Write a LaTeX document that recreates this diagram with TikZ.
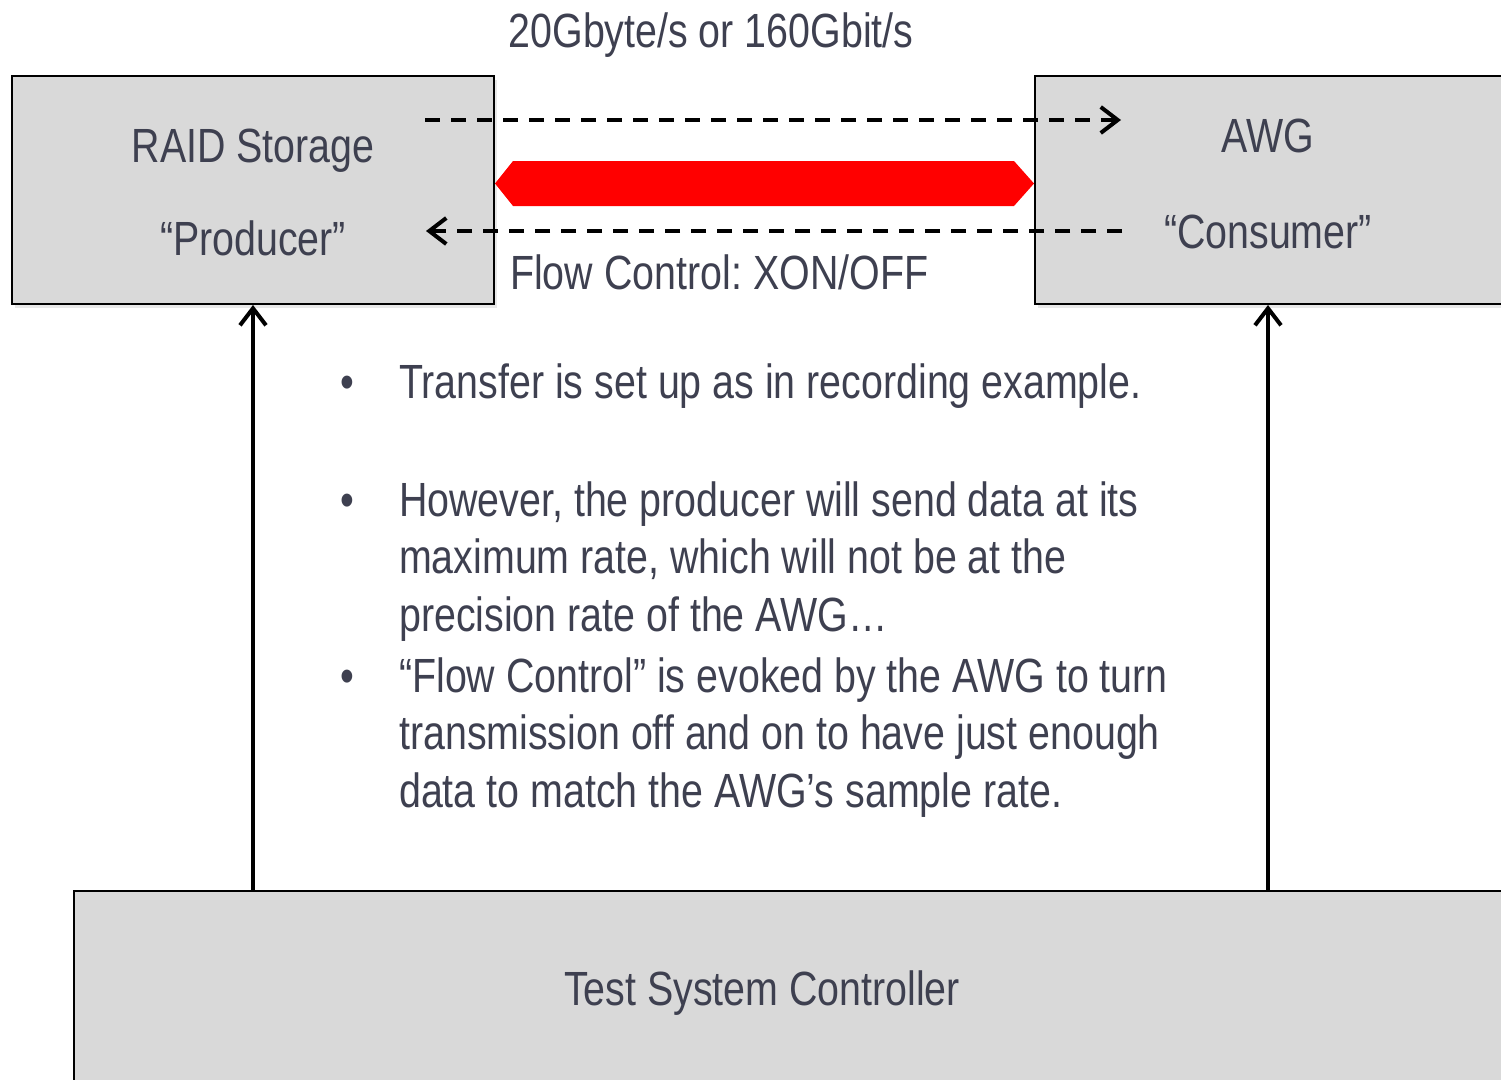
\documentclass[tikz,border=0pt]{standalone}
\usepackage{fontspec}
\setmainfont{Liberation Sans}[FakeStretch=0.82]
\usetikzlibrary{arrows.meta,shadows,calc}
\definecolor{boxgray}{RGB}{217,217,217}
\definecolor{txt}{RGB}{62,64,80}
\begin{document}
\begin{tikzpicture}[x=1bp,y=-1bp,
  box/.style={draw=black, line width=2bp, fill=boxgray, inner sep=0pt,
    drop shadow={shadow xshift=3bp, shadow yshift=-4bp, opacity=0.18}},
  lbl/.style={text=txt, font=\fontsize{48bp}{57.5bp}\selectfont, inner sep=0pt, anchor=base},
  para/.style={lbl, anchor=base west, align=left},
  tip/.style={-{Straight Barb[length=17bp,width=26bp]}},
  dashline/.style={draw=black, line width=4bp, dash pattern=on 15bp off 11bp, tip},
  upline/.style={draw=black, line width=4bp, tip}]
\useasboundingbox (0,0) rectangle (1501,1079);
\clip (0,0) rectangle (1501,1079);
% boxes
\node[box, minimum width=482bp, minimum height=228bp] (raid) at (253,190) {};
\node[box, minimum width=470bp, minimum height=228bp] (awg) at (1270,190) {};
\node[box, minimum width=1434bp, minimum height=230bp] (ctrl) at (791,1006) {};
% box labels
\node[lbl] (raidname) at (253,162) {RAID Storage};
\node[lbl] (producer) at (253,255) {“Producer”};
\node[lbl] (awgname) at (1268,152) {AWG};
\node[lbl] (consumer) at (1268,248) {“Consumer”};
\node[lbl] (ctrlname) at (762,1005) {Test System Controller};
\node[lbl] (rate) at (711,47) {20Gbyte/s or 160Gbit/s};
\node[lbl, anchor=base west] (flow) at (510,289) {Flow Control:\hspace{-3bp} XON/OFF};
% red double arrow
\fill[red] ($(raid.east)+(0,-6.5)$) -- (513,161) -- (1014,161) -- ($(awg.west)+(0,-6.5)$) -- (1014,206) -- (513,206) -- cycle;
% dashed arrows
\coordinate (dA) at (425,120);
\coordinate (dB) at (1121,120);
\coordinate (dC) at (1122,231);
\coordinate (dD) at (426,231);
\draw[dashline] (dA) -- (dB);
\draw[dashline] (dC) -- (dD);
% vertical arrows
\draw[upline] (ctrl.north -| raid.south) -- (raid.south);
\coordinate (awgb) at ($(awg.south)+(-2,0)$);
\draw[upline] (ctrl.north -| awgb) -- (awgb);
% bullets
\node[lbl] (b1) at (347,398) {\textbullet};
\node[para] (t1) at (399,398) {Transfer is set up as in recording example.};
\node[lbl] (b2) at (347,516) {\textbullet};
\node[para] (t2) at (399,631) {However, the producer will send data at its\\maximum rate, which will not be at the\\precision rate of the AWG…};
\node[lbl] (b3) at (347,692) {\textbullet};
\node[para] (t3) at (399,807) {“Flow Control” is evoked by the AWG to turn\\transmission off and on to have just enough\\data to match the AWG’s sample rate.};
\end{tikzpicture}
\end{document}
